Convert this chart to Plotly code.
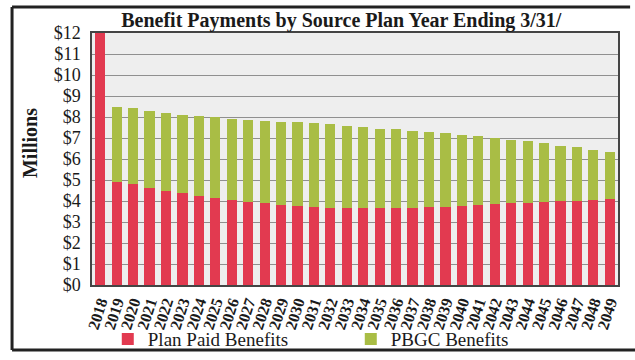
import plotly.graph_objects as go

years = [str(y) for y in range(2018, 2050)]

# Total benefit payments per plan year ($ millions)
total_benefits = [12.6, 8.48, 8.41, 8.29, 8.17, 8.08, 8.05, 7.98, 7.90, 7.86, 7.82,
                  7.76, 7.75, 7.71, 7.67, 7.59, 7.51, 7.44, 7.41, 7.35, 7.27, 7.22,
                  7.16, 7.10, 6.98, 6.90, 6.84, 6.75, 6.63, 6.56, 6.43, 6.31]

# Portion paid by the plan itself ($ millions)
plan_paid = [12.6, 4.92, 4.79, 4.60, 4.49, 4.36, 4.25, 4.13, 4.05, 3.97, 3.89,
             3.81, 3.76, 3.70, 3.65, 3.65, 3.65, 3.65, 3.65, 3.65, 3.70, 3.73,
             3.78, 3.81, 3.84, 3.89, 3.92, 3.95, 4.00, 4.02, 4.05, 4.08]

pbgc = [round(t - p, 2) for t, p in zip(total_benefits, plan_paid)]

RED = "#e23a50"
GREEN = "#a9bd45"
INK = "#1a1a1a"
SERIF = "Liberation Serif, Times New Roman, serif"

fig = go.Figure()
fig.add_trace(go.Bar(x=years, y=plan_paid, name="Plan Paid Benefits",
                     marker=dict(color=RED, line=dict(width=0))))
fig.add_trace(go.Bar(x=years, y=pbgc, name="PBGC Benefits",
                     marker=dict(color=GREEN, line=dict(width=0))))

fig.update_layout(
    width=635, height=360,
    barmode="stack", bargap=0.38,
    margin=dict(l=92, r=17, t=33, b=75, autoexpand=False),
    paper_bgcolor="white",
    plot_bgcolor="#eeeeee",
    font=dict(family=SERIF, color=INK, size=16),
    title=dict(text="<b>Benefit Payments by Source Plan Year Ending 3/31/</b>",
               x=0.474, xanchor="center", y=0.945, yanchor="middle",
               xref="paper",
               font=dict(family=SERIF, size=20, color=INK)),
    legend=dict(orientation="h", x=0.03, xanchor="left",
                yref="container", y=0.058, yanchor="middle",
                traceorder="normal", entrywidth=198,
                font=dict(family=SERIF, size=19, color=INK),
                bgcolor="rgba(0,0,0,0)", itemwidth=30),
    showlegend=True,
)

fig.update_yaxes(range=[0, 12], dtick=1, tickprefix="$", tickformat="d",
                 showgrid=True, gridcolor="#8f8f8f", gridwidth=1,
                 showline=True, linecolor="#444444", linewidth=1.5, mirror=True,
                 zeroline=False, ticks="", ticklabelstandoff=6, automargin=False,
                 tickfont=dict(family=SERIF, size=18, color=INK))
fig.update_xaxes(tickangle=-72, showgrid=False, dtick=1,
                 tickmode="linear", automargin=False,
                 showline=True, linecolor="#444444", linewidth=1.5, mirror=True,
                 ticks="",
                 tickfont=dict(family=SERIF, size=16, color=INK, weight="bold"))

# Y-axis title, set a little above the plot's vertical centre
fig.add_annotation(text="<b>Millions</b>", xref="paper", yref="paper",
                   x=-0.118, y=0.563, textangle=-90, showarrow=False,
                   xanchor="center", yanchor="middle",
                   font=dict(family=SERIF, size=20, color=INK))

# Outer frame around the whole chart (open on the right side)
frame = dict(color="#222222", width=3)
fig.add_shape(type="line", xref="paper", yref="paper",
              x0=-0.152, x1=1.023, y0=1.103, y1=1.103, line=frame)
fig.add_shape(type="line", xref="paper", yref="paper",
              x0=-0.152, x1=-0.152, y0=1.103, y1=-0.258, line=frame)
fig.add_shape(type="line", xref="paper", yref="paper",
              x0=-0.152, x1=1.04, y0=-0.258, y1=-0.258, line=frame)

fig.write_html("out.html")
